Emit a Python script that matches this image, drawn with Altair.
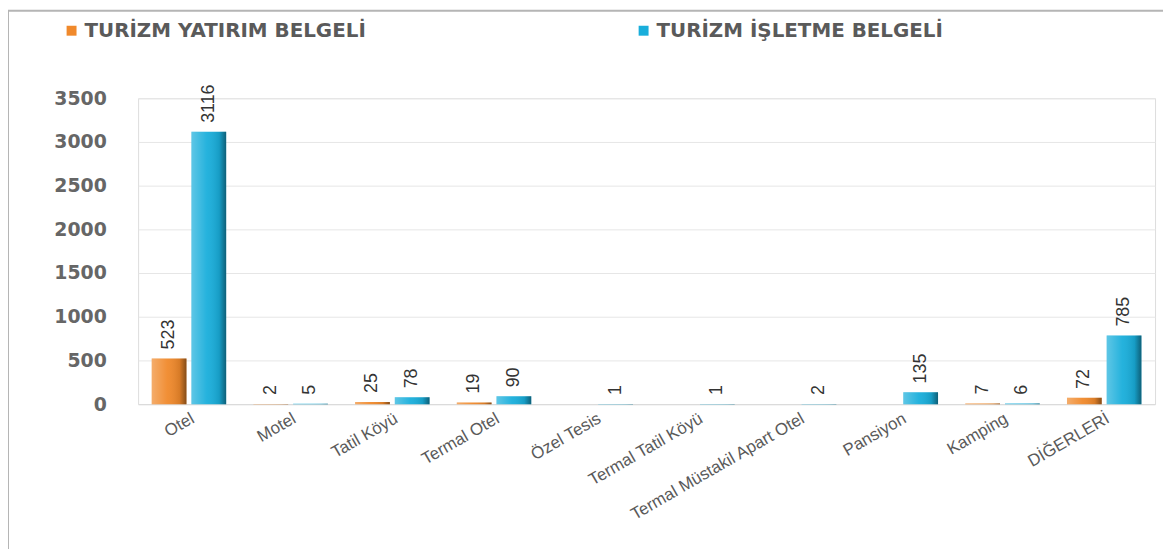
import altair as alt
import pandas as pd

categories = ["Otel", "Motel", "Tatil Köyü", "Termal Otel", "Özel Tesis",
              "Termal Tatil Köyü", "Termal Müstakil Apart Otel", "Pansiyon",
              "Kamping", "DİĞERLERİ"]
series = ["TURİZM YATIRIM BELGELİ", "TURİZM İŞLETME BELGELİ"]
yatirim = [523, 2, 25, 19, None, None, None, None, 7, 72]
isletme = [3116, 5, 78, 90, 1, 1, 2, 135, 6, 785]
y_ticks = [0, 500, 1000, 1500, 2000, 2500, 3000, 3500]
colors = ["#F0892B", "#19AEDB"]

rows = []
for c, a, b in zip(categories, yatirim, isletme):
    rows.append({"kategori": c, "seri": series[0], "deger": a})
    rows.append({"kategori": c, "seri": series[1], "deger": b})
df = pd.DataFrame(rows)

W, H = 1024, 308

x_enc = alt.X("kategori:N", sort=categories,
              scale=alt.Scale(paddingInner=0.268, paddingOuter=0.134),
              axis=alt.Axis(title=None, labelAngle=-30, labelFontSize=17,
                            labelFont="Liberation Sans", labelColor="#5a5a5a",
                            labelPadding=6, ticks=False, domainColor="#d9d9d9",
                            labelLimit=400, grid=False))
xo_enc = alt.XOffset("seri:N", sort=series, scale=alt.Scale(paddingInner=0.125))
y_enc = alt.Y("deger:Q", scale=alt.Scale(domain=[0, 3500], nice=False),
              axis=alt.Axis(title=None, values=y_ticks, format="d", labelFontSize=19,
                            labelFont="DejaVu Sans", labelFontWeight="bold",
                            labelColor="#666666", labelPadding=32, ticks=False,
                            domain=False, gridColor="#e6e6e6", gridWidth=1))

base = alt.Chart(df).transform_filter("isValid(datum.deger)")

bars = base.mark_bar().encode(
    x=x_enc, xOffset=xo_enc, y=y_enc,
    color=alt.Color("seri:N", sort=series,
                    scale=alt.Scale(domain=series, range=colors),
                    legend=alt.Legend(title=None, orient="none", direction="horizontal",
                                      legendX=-77, legendY=-78, symbolType="square",
                                      symbolSize=100, symbolStrokeWidth=0,
                                      symbolOpacity=1, labelFontSize=20,
                                      labelFont="DejaVu Sans", labelFontWeight="bold",
                                      labelColor="#5a5a5a", labelOffset=3,
                                      columnPadding=269, labelLimit=600)),
)

shade = base.mark_bar(color=alt.Gradient(
    gradient="linear",
    stops=[alt.GradientStop(color="rgba(255,255,255,0.30)", offset=0),
           alt.GradientStop(color="rgba(255,255,255,0.05)", offset=0.45),
           alt.GradientStop(color="rgba(0,0,0,0.10)", offset=0.8),
           alt.GradientStop(color="rgba(0,0,0,0.45)", offset=1)],
    x1=0, x2=1, y1=0, y2=0)).encode(x=x_enc, xOffset=xo_enc, y=y_enc)

labels = base.mark_text(angle=270, align="left", baseline="middle", dx=9,
                        fontSize=18, font="Liberation Sans", color="#333333").encode(
    x=x_enc, xOffset=xo_enc, y=y_enc, text=alt.Text("deger:Q", format="d"))

frame_df = pd.DataFrame({"k": [0]})
left_line = alt.Chart(frame_df).mark_rule(color="#b5b5b5", strokeWidth=2).encode(
    x=alt.value(-131), y=alt.value(-88), y2=alt.value(460))
top_line = alt.Chart(frame_df).mark_rule(color="#b5b5b5", strokeWidth=2).encode(
    y=alt.value(-88), x=alt.value(-131), x2=alt.value(W + 8))

chart = alt.layer(bars, shade, labels, left_line, top_line).properties(
    width=W, height=H,
    autosize=alt.AutoSizeParams(type="none"),
    padding={"left": 131, "top": 89, "right": 8, "bottom": 144},
).configure_view(stroke=None).configure(background="white")

chart.save("out.html", embed_options={"renderer": "svg", "actions": False})
